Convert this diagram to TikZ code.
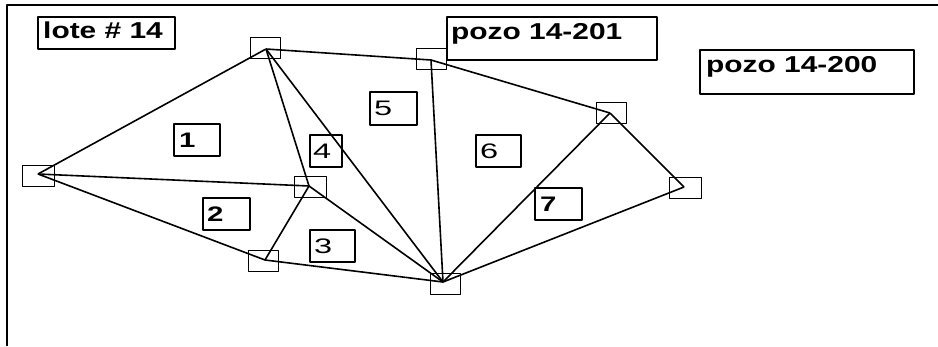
\documentclass[tikz,border=0pt]{standalone}
\usepackage{fontspec}
\setmainfont{Liberation Sans}
\begin{document}
\begin{tikzpicture}[x=1pt,y=-1pt,line join=round,
  edge/.style={line width=1.6pt},
  frame/.style={line width=2.2pt},
  well/.style={draw,line width=1.4pt,anchor=north west,minimum width=30pt,minimum height=21pt,inner sep=0pt},
  tagbox/.style={draw,line width=1.5pt,anchor=north west,inner sep=0pt},
  bigtxt/.style={anchor=base west,inner sep=0pt,font=\fontsize{23}{23}\selectfont\bfseries},
  numtxt/.style={anchor=base west,inner sep=0pt,font=\fontsize{21}{21}\selectfont}]
\useasboundingbox (0,0) rectangle (938,346);
% frame
\draw[frame] (7,346) -- (7,5) -- (938,5);
% vertex squares
\node[well] (sqA) at (250,37) {};
\node[well,minimum width=32pt] (sqF) at (22,165) {};
\node[well,minimum width=32pt] (sqG) at (294,176) {};
\node[well] (sqH) at (248,250) {};
\node[well] (sqE) at (430,273) {};
\node[well] (sqB) at (416,48) {};
\node[well] (sqC) at (596,102) {};
\node[well,minimum width=32pt] (sqD) at (669,177) {};
% vertex points
\coordinate (A) at (266,49);
\coordinate (B) at (431,60);
\coordinate (C) at (610,113);
\coordinate (D) at (684,187);
\coordinate (E) at (443,282);
\coordinate (F) at (38,174);
\coordinate (G) at (309,186);
\coordinate (H) at (265,260);
% edges
\draw[edge] (F) -- (A);
\draw[edge] (A) -- (B);
\draw[edge] (B) -- (C);
\draw[edge] (C) -- (D);
\draw[edge] (A) -- (G);
\draw[edge] (A) -- (E);
\draw[edge] (B) -- (E);
\draw[edge] (F) -- (G);
\draw[edge] (F) -- (H);
\draw[edge] (G) -- (H);
\draw[edge] (G) -- (E);
\draw[edge] (H) -- (E);
\draw[edge] (C) -- (E);
\draw[edge] (D) -- (E);
% name boxes
\node[tagbox,minimum width=137pt,minimum height=32pt] (lote) at (37,16) {};
\node[bigtxt] (tlote) at ([shift={(6,22)}]lote.north west) {\scalebox{1.3}[1]{lote \# 14}};
\node[tagbox,minimum width=210pt,minimum height=43pt] (p201) at (446,16) {};
\node[bigtxt] (tp201) at ([shift={(5,23)}]p201.north west) {\scalebox{1.3}[1]{pozo 14-201}};
\node[tagbox,minimum width=214pt,minimum height=44pt] (p200) at (699,49) {};
\node[bigtxt] (tp200) at ([shift={(7,23)}]p200.north west) {\scalebox{1.3}[1]{pozo 14-200}};
% number boxes
\node[tagbox,minimum width=46pt,minimum height=32pt] (n1) at (173,123) {};
\node[numtxt,font=\fontsize{21}{21}\selectfont\bfseries] (t1) at ([shift={(6,-9)}]n1.south west) {\scalebox{1.4}[1]{1}};
\node[tagbox,minimum width=47pt,minimum height=32pt] (n2) at (202,197) {};
\node[numtxt,font=\fontsize{21}{21}\selectfont\bfseries] (t2) at ([shift={(5,-9)}]n2.south west) {\scalebox{1.4}[1]{2}};
\node[tagbox,minimum width=45pt,minimum height=32pt] (n3) at (309,229) {};
\node[numtxt] (t3) at ([shift={(5,-9)}]n3.south west) {\scalebox{1.55}[1]{3}};
\node[tagbox,minimum width=32pt,minimum height=32pt] (n4) at (309,134) {};
\node[numtxt] (t4) at ([shift={(4,-9)}]n4.south west) {\scalebox{1.55}[1]{4}};
\node[tagbox,minimum width=47pt,minimum height=33pt] (n5) at (369,91) {};
\node[numtxt] (t5) at ([shift={(5,-10)}]n5.south west) {\scalebox{1.55}[1]{5}};
\node[tagbox,minimum width=45pt,minimum height=32pt] (n6) at (475,134) {};
\node[numtxt] (t6) at ([shift={(5,-9)}]n6.south west) {\scalebox{1.55}[1]{6}};
\node[tagbox,minimum width=47pt,minimum height=32pt] (n7) at (534,187) {};
\node[numtxt,font=\fontsize{21}{21}\selectfont\bfseries] (t7) at ([shift={(6,-9)}]n7.south west) {\scalebox{1.4}[1]{7}};
\end{tikzpicture}
\end{document}
